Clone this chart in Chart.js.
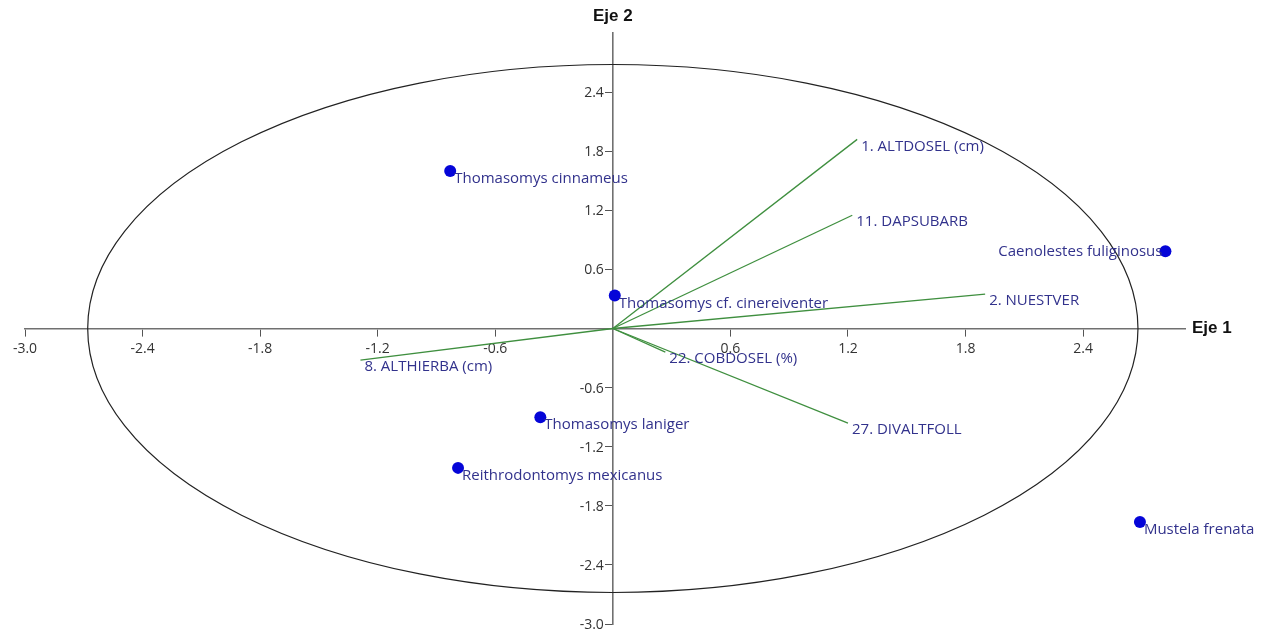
<!DOCTYPE html>
<html>
<head>
<meta charset="utf-8">
<script src="https://cdn.jsdelivr.net/npm/chart.js@4.4.1/dist/chart.umd.min.js"></script>
<style>
html,body{margin:0;padding:0;background:#fff;}
#wrap{width:1266px;height:634px;}
</style>
</head>
<body>
<div id="wrap"><canvas id="c" width="1266" height="634"></canvas></div>
<script>
// ---- data ----
const species = ["Thomasomys cinnameus","Thomasomys cf. cinereiventer","Caenolestes fuliginosus","Thomasomys laniger","Reithrodontomys mexicanus","Mustela frenata"];
const speciesX = [-0.83, 0.01, 2.82, -0.37, -0.79, 2.69];
const speciesY = [1.60, 0.335, 0.785, -0.90, -1.415, -1.965];

const variables = ["1. ALTDOSEL (cm)","11. DAPSUBARB","2. NUESTVER","8. ALTHIERBA (cm)","22. COBDOSEL (%)","27. DIVALTFOLL"];
const varX = [1.247, 1.222, 1.90, -1.288, 0.268, 1.20];
const varY = [1.92, 1.15, 0.348, -0.32, -0.24, -0.96];

const xTicks = [-3.0, -2.4, -1.8, -1.2, -0.6, 0.6, 1.2, 1.8, 2.4];
const yTicks = [-3.0, -2.4, -1.8, -1.2, -0.6, 0.6, 1.2, 1.8, 2.4];
const axisTitles = ["Eje 1", "Eje 2"];
const circleRadius = 2.68;

const labelColor = '#32328c';
const labelFont = '15px "Open Sans"';
const tickFont = '14px "Open Sans"';
const tickColor = '#333';

const datasets = [];
variables.forEach((v, i) => {
  datasets.push({
    label: v,
    data: [{x: 0, y: 0}, {x: varX[i], y: varY[i]}],
    showLine: true,
    borderColor: '#3f8f3f',
    borderWidth: 1.3,
    pointRadius: 0,
    pointHoverRadius: 0,
    fill: false
  });
});
datasets.push({
  label: 'Especies',
  data: species.map((s, i) => ({x: speciesX[i], y: speciesY[i]})),
  showLine: false,
  pointRadius: 6,
  pointBackgroundColor: '#0505d8',
  pointBorderColor: '#0505d8',
  pointBorderWidth: 0
});

function keepTicks(list) {
  return function(scale) {
    scale.ticks = list.map(v => ({value: v}));
  };
}

const circlePlugin = {
  id: 'circle',
  beforeDatasetsDraw(chart) {
    const ctx = chart.ctx, xs = chart.scales.x, ys = chart.scales.y;
    const cx = xs.getPixelForValue(0), cy = ys.getPixelForValue(0);
    const rx = xs.getPixelForValue(circleRadius) - cx;
    const ry = cy - ys.getPixelForValue(circleRadius);
    ctx.save();
    ctx.beginPath();
    ctx.ellipse(cx, cy, rx, ry, 0, 0, Math.PI * 2);
    ctx.strokeStyle = '#222';
    ctx.lineWidth = 1.2;
    ctx.stroke();
    ctx.restore();
  }
};

const labelPlugin = {
  id: 'labels',
  afterDatasetsDraw(chart) {
    const ctx = chart.ctx, xs = chart.scales.x, ys = chart.scales.y;
    ctx.save();
    // y tick labels, left of the centred y axis
    ctx.font = tickFont;
    ctx.fillStyle = tickColor;
    ctx.textAlign = 'right';
    ctx.textBaseline = 'middle';
    const ax = xs.getPixelForValue(0);
    ys.ticks.forEach(t => {
      ctx.fillText(Number(t.value).toFixed(1), ax - 9, ys.getPixelForValue(t.value) + 1);
    });
    ctx.font = labelFont;
    ctx.fillStyle = labelColor;
    ctx.textBaseline = 'middle';
    species.forEach((s, i) => {
      const px = xs.getPixelForValue(speciesX[i]);
      const py = ys.getPixelForValue(speciesY[i]);
      if (s === "Caenolestes fuliginosus") {
        ctx.textAlign = 'right';
        ctx.fillText(s, px - 3, py + 1);
      } else {
        ctx.textAlign = 'left';
        ctx.fillText(s, px + 4, py + 8);
      }
    });
    variables.forEach((v, i) => {
      const px = xs.getPixelForValue(varX[i]);
      const py = ys.getPixelForValue(varY[i]);
      ctx.textAlign = 'left';
      ctx.fillText(v, px + 4, py + 7);
    });
    // axis titles
    ctx.fillStyle = '#111';
    ctx.font = 'bold 17px "Liberation Sans", Arial, sans-serif';
    ctx.textAlign = 'left';
    ctx.textBaseline = 'middle';
    ctx.fillText(axisTitles[0], xs.right + 7, ys.getPixelForValue(0));
    ctx.textAlign = 'center';
    ctx.fillText(axisTitles[1], xs.getPixelForValue(0), 16);
    ctx.restore();
  }
};

new Chart(document.getElementById('c'), {
  type: 'scatter',
  data: {datasets},
  plugins: [circlePlugin, labelPlugin],
  options: {
    responsive: false,
    animation: false,
    events: [],
    layout: {padding: {left: 25, right: 81, top: 33, bottom: 10}},
    plugins: {legend: {display: false}, tooltip: {enabled: false}},
    scales: {
      x: {
        type: 'linear', min: -3.0, max: 2.92,
        position: {y: 0},
        afterBuildTicks: keepTicks(xTicks),
        grid: {drawOnChartArea: false, drawTicks: true, tickLength: 7, color: '#555', lineWidth: 1},
        border: {display: true, color: '#707070', width: 1.6},
        ticks: {color: tickColor, font: {family: 'Open Sans', size: 14}, padding: 5, maxRotation: 0, autoSkip: false,
          callback: v => Number(v).toFixed(1)}
      },
      y: {
        type: 'linear', min: -3.0, max: 3.0,
        position: {x: 0},
        afterBuildTicks: keepTicks(yTicks),
        grid: {drawOnChartArea: false, drawTicks: true, tickLength: 7, color: '#555', lineWidth: 1},
        border: {display: true, color: '#707070', width: 1.6},
        ticks: {display: false}
      }
    }
  }
});
</script>
</body>
</html>
